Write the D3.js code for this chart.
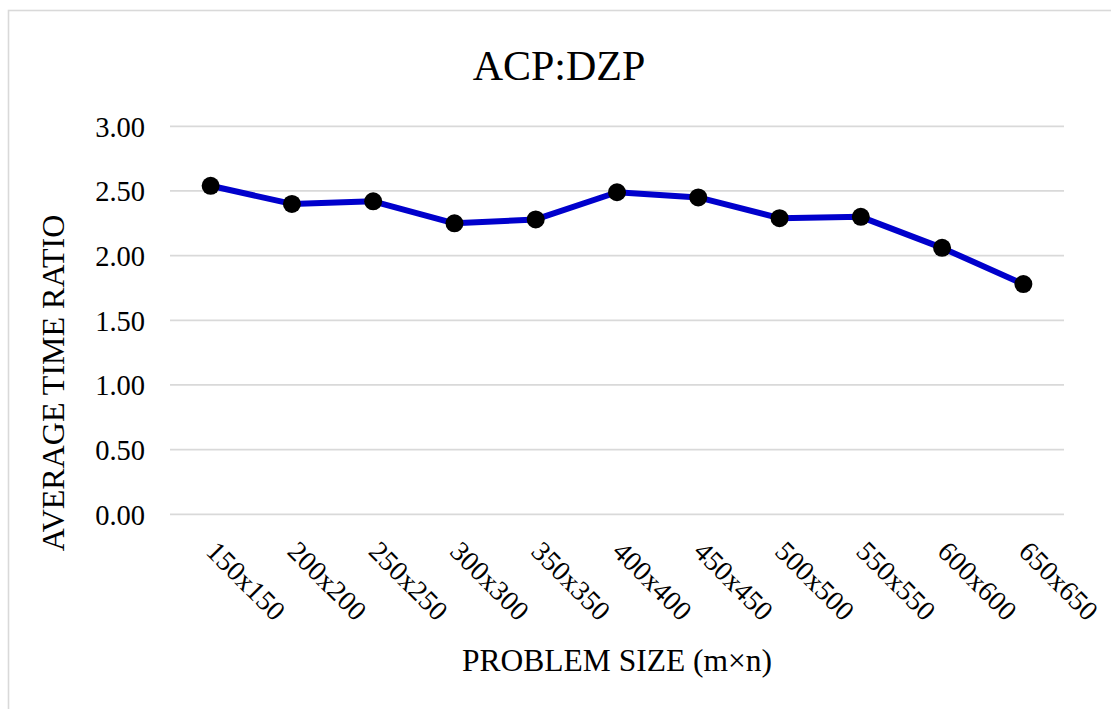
<!DOCTYPE html>
<html>
<head>
<meta charset="utf-8">
<script src="https://cdn.jsdelivr.net/npm/d3@7"></script>
</head>
<body style="margin:0;font-family:'Liberation Serif'">
<svg id="chart" width="1111" height="709" font-family="Liberation Serif" style="display:block;font-family:'Liberation Serif'"></svg>
<script>
const categories = ["150x150","200x200","250x250","300x300","350x350","400x400","450x450","500x500","550x550","600x600","650x650"];
const ratioValues = [2.54, 2.40, 2.42, 2.25, 2.28, 2.49, 2.45, 2.29, 2.30, 2.06, 1.78];
const yTicks = [0, 0.5, 1.0, 1.5, 2.0, 2.5, 3.0];
const chartTitle = "ACP:DZP";
const xTitle = "PROBLEM SIZE (m×n)";
const yTitle = "AVERAGE TIME RATIO";

const svg = d3.select("#chart");
const W = 1111, H = 709;
const plot = { left: 170, right: 1064, top: 126.3, bottom: 514.3 };

svg.append("rect").attr("width", W).attr("height", H).attr("fill", "#fff");
svg.append("rect")
  .attr("x", 8.5).attr("y", 10.5)
  .attr("width", W + 20).attr("height", H + 20)
  .attr("fill", "none").attr("stroke", "#d9d9d9").attr("stroke-width", 1.6);

const x = d3.scalePoint().domain(categories).range([plot.left, plot.right]).padding(0.5);
const y = d3.scaleLinear().domain([0, 3]).range([plot.bottom, plot.top]);

svg.append("g").selectAll("line").data(yTicks).join("line")
  .attr("x1", plot.left).attr("x2", plot.right)
  .attr("y1", d => y(d)).attr("y2", d => y(d))
  .attr("stroke", "#d9d9d9").attr("stroke-width", 1.7);

const yAxis = d3.axisLeft(y).tickValues(yTicks).tickFormat(d3.format(".2f")).tickSize(0).tickPadding(0);
const yg = svg.append("g").attr("transform", `translate(145,0)`).call(yAxis);
yg.attr("font-family", "Liberation Serif");
yg.select(".domain").remove();
yg.selectAll("text").style("font-family", "'Liberation Serif'").attr("font-size", 28.5).attr("fill", "#000").attr("dy", "0.34em");

const xAxis = d3.axisBottom(x).tickSize(0).tickPadding(0);
const xg = svg.append("g").call(xAxis);
xg.attr("font-family", "Liberation Serif");
xg.select(".domain").remove();
xg.selectAll(".tick").attr("transform", null);
xg.selectAll(".tick text")
  .style("font-family", "'Liberation Serif'").attr("font-size", 28).attr("fill", "#000")
  .attr("text-anchor", "start").attr("dy", null).attr("y", null)
  .attr("transform", d => `translate(${x(d) - 6},553) rotate(45)`);

const line = d3.line().x((d, i) => x(categories[i])).y(d => y(d));
svg.append("path").datum(ratioValues)
  .attr("d", line).attr("fill", "none")
  .attr("stroke", "#0000cc").attr("stroke-width", 6).attr("stroke-linejoin", "round");

svg.append("g").selectAll("circle").data(ratioValues).join("circle")
  .attr("cx", (d, i) => x(categories[i])).attr("cy", d => y(d))
  .attr("r", 9).attr("fill", "#000");

svg.append("text").attr("x", 559).attr("y", 80).attr("text-anchor", "middle")
  .style("font-family", "'Liberation Serif'").attr("font-size", 42).attr("fill", "#000").text(chartTitle);
svg.append("text").attr("x", 617).attr("y", 671).attr("text-anchor", "middle")
  .style("font-family", "'Liberation Serif'").attr("font-size", 31.5).attr("fill", "#000").text(xTitle);
svg.append("text").attr("transform", "translate(64,383) rotate(-90)").attr("text-anchor", "middle")
  .style("font-family", "'Liberation Serif'").attr("font-size", 32).attr("fill", "#000").text(yTitle);
</script>
</body>
</html>
